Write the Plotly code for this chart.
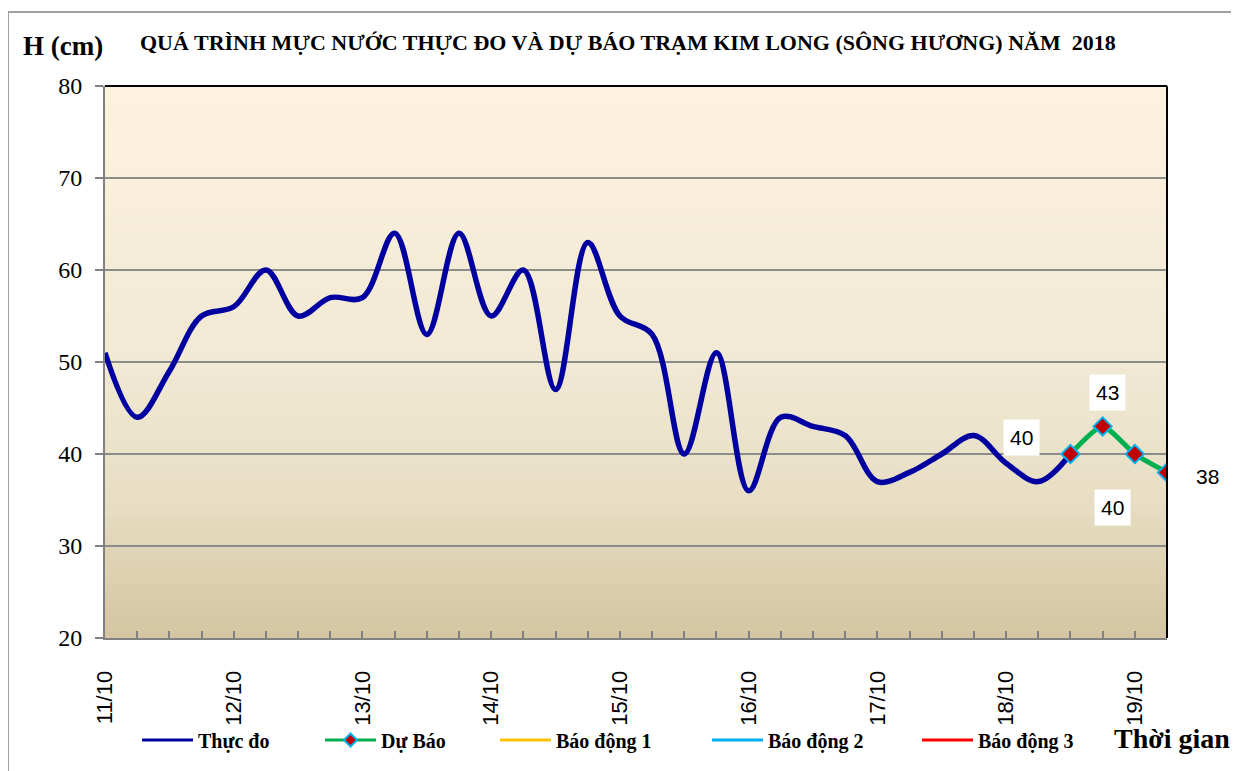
import plotly.graph_objects as go

# ---- data ----
obs_times = [
    "2018-10-11 00:00", "2018-10-11 06:00", "2018-10-11 12:00", "2018-10-11 18:00",
    "2018-10-12 00:00", "2018-10-12 06:00", "2018-10-12 12:00", "2018-10-12 18:00",
    "2018-10-13 00:00", "2018-10-13 06:00", "2018-10-13 12:00", "2018-10-13 18:00",
    "2018-10-14 00:00", "2018-10-14 06:00", "2018-10-14 12:00", "2018-10-14 18:00",
    "2018-10-15 00:00", "2018-10-15 06:00", "2018-10-15 12:00", "2018-10-15 18:00",
    "2018-10-16 00:00", "2018-10-16 06:00", "2018-10-16 12:00", "2018-10-16 18:00",
    "2018-10-17 00:00", "2018-10-17 06:00", "2018-10-17 12:00", "2018-10-17 18:00",
    "2018-10-18 00:00", "2018-10-18 06:00", "2018-10-18 12:00",
]
obs_values = [51, 44, 49, 55, 56, 60, 55, 57, 57, 64, 53, 64, 55, 60, 47, 63,
              55, 53, 40, 51, 36, 44, 43, 42, 37, 38, 40, 42, 39, 37, 40]

fc_times = ["2018-10-18 12:00", "2018-10-18 18:00", "2018-10-19 00:00", "2018-10-19 06:00"]
fc_values = [40, 43, 40, 38]

alarm_times = ["2018-10-11 00:00", "2018-10-19 06:00"]
alarm1 = [100, 100]
alarm2 = [200, 200]
alarm3 = [350, 350]

x_range = ["2018-10-11 00:00", "2018-10-19 06:00"]
y_range = [20, 80]

series_names = ["Thực đo", "Dự Báo", "Báo động 1", "Báo động 2", "Báo động 3"]
series_colors = ["#0000A0", "#00B050", "#FFC000", "#00B0F0", "#FF0000"]

title_text = "QUÁ TRÌNH MỰC NƯỚC THỰC ĐO VÀ DỰ BÁO TRẠM KIM LONG (SÔNG HƯƠNG) NĂM  2018"

SERIF = "Liberation Serif, Times New Roman, serif"
SANS = "Liberation Sans, Arial, sans-serif"

# plot-area mapping (reference pixel -> paper fraction)
PX0, PX1, PY0, PY1 = 105, 1167, 86, 638
def px(x):
    return (x - PX0) / (PX1 - PX0)
def py(y):
    return (PY1 - y) / (PY1 - PY0)

fig = go.Figure()
fig.add_trace(go.Scatter(x=obs_times, y=obs_values, name=series_names[0], mode="lines", showlegend=False,
                         line=dict(color=series_colors[0], width=5.5, shape="spline", smoothing=1.0)))
fig.add_trace(go.Scatter(x=fc_times, y=fc_values, name=series_names[1], mode="lines+markers", showlegend=False,
                         line=dict(color=series_colors[1], width=5, shape="spline", smoothing=0.6),
                         marker=dict(symbol="diamond", size=14, color="#C00000",
                                     line=dict(color="#00B0F0", width=2))))
for vals, nm, c in zip([alarm1, alarm2, alarm3], series_names[2:], series_colors[2:]):
    fig.add_trace(go.Scatter(x=alarm_times, y=vals, name=nm, mode="lines", showlegend=False,
                             line=dict(color=c, width=2.5)))

# legend entries (thin lines, as in the reference legend)
legend_ids = ["legend", "legend2", "legend3", "legend4", "legend5"]
for i, (nm, c, lg) in enumerate(zip(series_names, series_colors, legend_ids)):
    if i == 1:
        fig.add_trace(go.Scatter(x=[None], y=[None], name=nm, mode="lines+markers", legend=lg,
                                 line=dict(color=c, width=3),
                                 marker=dict(symbol="diamond", size=10, color="#C00000",
                                             line=dict(color="#00B0F0", width=2))))
    else:
        fig.add_trace(go.Scatter(x=[None], y=[None], name=nm, mode="lines", legend=lg,
                                 line=dict(color=c, width=3)))

# gradient background bands
stops = [(0.0, (212, 197, 162)), (0.25, (231, 222, 196)), (0.5, (241, 233, 212)), (1.0, (253, 242, 222))]
def col(t):
    for (t0, c0), (t1, c1) in zip(stops[:-1], stops[1:]):
        if t0 <= t <= t1:
            f = (t - t0) / (t1 - t0)
            return "rgb(%d,%d,%d)" % tuple(round(a + (b - a) * f) for a, b in zip(c0, c1))
    return "rgb(%d,%d,%d)" % stops[-1][1]

shapes = []
n = 90
for i in range(n):
    y0 = i / n
    y1 = (i + 1) / n
    shapes.append(dict(type="rect", xref="x domain", yref="y domain", x0=0, x1=1, y0=y0, y1=min(1, y1 + 0.002),
                       fillcolor=col((y0 + y1) / 2), line=dict(width=0), layer="below"))
# top and right black border
shapes.append(dict(type="line", xref="x domain", yref="y domain", x0=0, x1=1, y0=1, y1=1,
                   line=dict(color="black", width=2), layer="above"))
shapes.append(dict(type="line", xref="x domain", yref="y domain", x0=1, x1=1, y0=0, y1=1,
                   line=dict(color="black", width=2), layer="above"))
# outer frame
shapes.append(dict(type="rect", xref="paper", yref="paper", x0=px(8), x1=px(1260),
                   y0=py(790), y1=py(12), line=dict(color="#A0A0A0", width=2),
                   fillcolor="rgba(0,0,0,0)", layer="below"))

# data labels for forecast
label_offsets = [(-49, 17), (5, 34), (-22, -53), (40, -4)]
annotations = []
for (xv, yv), (dx, dy) in zip(zip(fc_times, fc_values), label_offsets):
    annotations.append(dict(x=xv, y=yv, xref="x", yref="y", text=str(yv), showarrow=False,
                            xanchor="center", yanchor="middle",
                            xshift=dx, yshift=dy, font=dict(family=SANS, size=21, color="black"),
                            bgcolor="white", borderpad=6))

annotations.append(dict(text="<b>" + title_text + "</b>", xref="paper", yref="paper",
                        x=px(628), y=py(42), xanchor="center", yanchor="middle", showarrow=False,
                        font=dict(family=SERIF, size=22, color="black")))
annotations.append(dict(text="<b>H (cm)</b>", xref="paper", yref="paper",
                        x=px(63), y=py(46), xanchor="center", yanchor="middle", showarrow=False,
                        font=dict(family=SERIF, size=27, color="black")))
annotations.append(dict(text="<b>Thời gian</b>", xref="paper", yref="paper",
                        x=px(1172), y=py(738), xanchor="center", yanchor="middle", showarrow=False,
                        font=dict(family=SERIF, size=28, color="black")))

legend_common = dict(orientation="h", xanchor="left", y=py(740), yanchor="middle",
                     font=dict(family=SERIF, size=20, color="black", weight="bold"), itemwidth=51,
                     bgcolor="rgba(0,0,0,0)")
legend_starts = [142, 325, 500, 712, 922]

# body margin of the html page is 8px -> shrink the figure by 8 so it fits
fig.update_layout(
    width=1231, height=763,
    margin=dict(l=97, r=72, t=78, b=133),
    paper_bgcolor="white",
    plot_bgcolor="#F0E8D0",
    showlegend=True,
    legend=dict(legend_common, x=px(legend_starts[0] - 5)),
    legend2=dict(legend_common, x=px(legend_starts[1] - 5)),
    legend3=dict(legend_common, x=px(legend_starts[2] - 5)),
    legend4=dict(legend_common, x=px(legend_starts[3] - 5)),
    legend5=dict(legend_common, x=px(legend_starts[4] - 5)),
    shapes=shapes,
    annotations=annotations,
    xaxis=dict(type="date", range=x_range, tickformat="%d/%m", dtick=86400000, tick0="2018-10-11",
               tickangle=-90, ticks="inside", ticklen=7, tickcolor="#808080", tickwidth=2,
               minor=dict(dtick=21600000, ticks="inside", ticklen=7, tickcolor="#808080", tickwidth=2),
               showline=True, linecolor="#808080", linewidth=2, showgrid=False,
               tickfont=dict(family=SANS, size=22, color="black"), ticklabelstandoff=22),
    yaxis=dict(range=y_range, dtick=10, ticks="outside", ticklen=8, tickcolor="#808080", tickwidth=2,
               showline=True, linecolor="#808080", linewidth=2, showgrid=True, gridcolor="#8C8C8C",
               gridwidth=2, zeroline=False, tickfont=dict(family=SERIF, size=24, color="black"),
               ticklabelstandoff=8),
)

fig.write_html("out.html")
